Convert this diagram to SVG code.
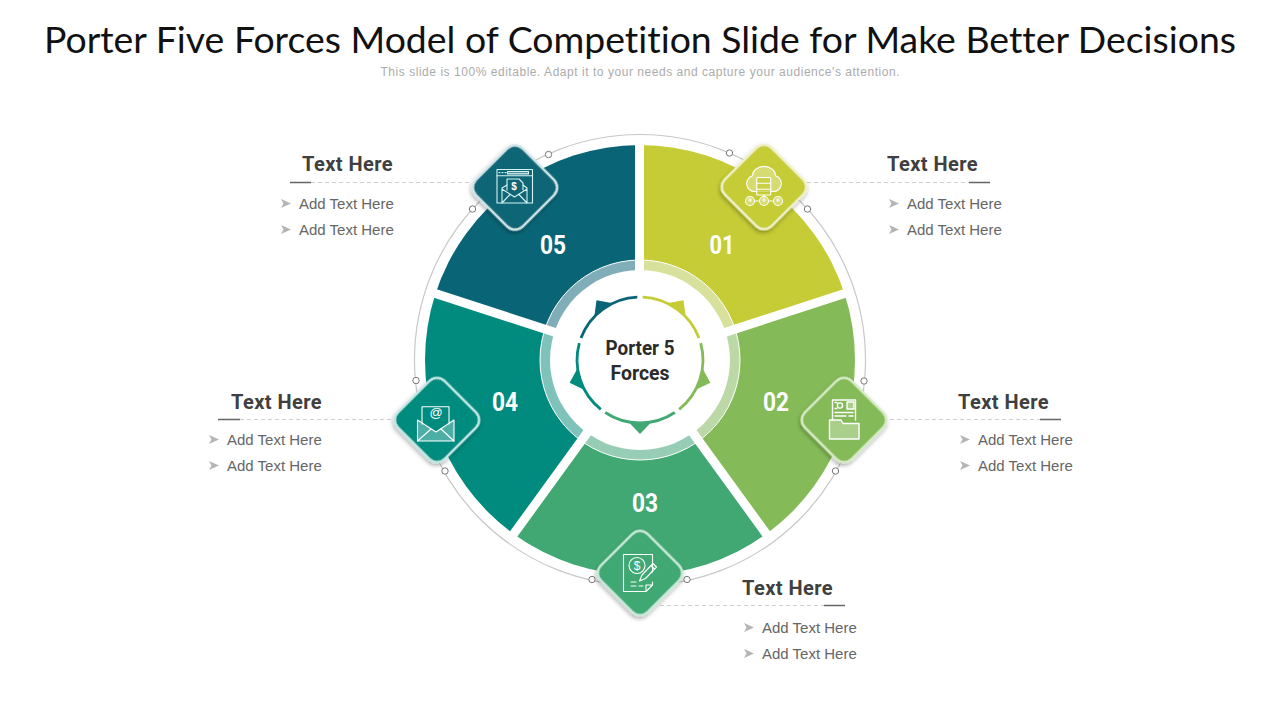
<svg xmlns="http://www.w3.org/2000/svg" width="1280" height="720" viewBox="0 0 1280 720">
<style>
.head{font-family:"Roboto","Liberation Sans",sans-serif;font-weight:700;font-size:20px;fill:#404040;letter-spacing:.45px}
.item{font-family:"Liberation Sans",Arial,sans-serif;font-size:15px;fill:#666}
.num{font-family:"Roboto","Liberation Sans",sans-serif;font-weight:700;font-size:26px;fill:#fff;text-anchor:middle}
.dash{stroke:#cfcfcf;stroke-width:1;stroke-dasharray:4 3;fill:none}
.solid{stroke:#666;stroke-width:1.6;fill:none}
.dia{stroke-width:2.4;filter:url(#sh)}
.ic{fill:none;stroke:#fff;stroke-width:1.1;stroke-linejoin:round;stroke-linecap:round}
.soft{fill:#fff;fill-opacity:.3}
.dot{fill:#fff;stroke:#777;stroke-width:1}
.bul{fill:#b5b5b5}
.inner{fill:none;stroke-width:2.8}
</style>
<defs>
<filter id="sh" x="-30%" y="-30%" width="160%" height="160%"><feDropShadow dx="1" dy="2" stdDeviation="2" flood-color="#000" flood-opacity=".35"/></filter>
<path id="bullet" d="M0 -4.5L10 0L0 4.5L2.5 0Z"/>
<g id="mark"><path d="M-34.8 -52.5A63 63 0 0 1 34.8 -52.5" class="inner" stroke-linecap="butt"/><path d="M-11.5 -61.9L0 -74L11.5 -61.9Z" stroke="none"/></g>
</defs>
<rect width="1280" height="720" fill="#fff"/>
<text x="640" y="53" text-anchor="middle" textLength="1192" lengthAdjust="spacingAndGlyphs" style="font-family:'Lato','Liberation Sans',sans-serif;font-size:37px;fill:#111;font-variant-ligatures:none">Porter Five Forces Model of Competition Slide for Make Better Decisions</text>
<text x="640" y="76" text-anchor="middle" textLength="519" style="font-family:'Liberation Sans',Arial,sans-serif;font-size:12px;fill:#ababab">This slide is 100% editable. Adapt it to your needs and capture your audience's attention.</text>

<g id="orbit">
<circle cx="640" cy="360" r="225.5" fill="none" stroke="#c9c9c9" stroke-width="1.2"/>
</g>

<g id="connectors">
<path class="dash" d="M311 182.5H472M807 182.5H969M890 419.5H1040M240 419.5H393M660 605.5H824"/>
<path class="solid" d="M290 182.5H311M969 182.5H990M1040 419.5H1061M218 419.5H240M824 605.5H845"/>
</g>

<g id="wheel">
<path id="seg01" fill="#c5cc35" d="M640 360V145A215 215 0 0 1 844.5 293.6Z"/>
<path id="seg02" fill="#84bb58" d="M640 360L844.5 293.6A215 215 0 0 1 766.4 533.9Z"/>
<path id="seg03" fill="#41a873" d="M640 360L766.4 533.9A215 215 0 0 1 513.6 533.9Z"/>
<path id="seg04" fill="#018b7f" d="M640 360L513.6 533.9A215 215 0 0 1 435.5 293.6Z"/>
<path id="seg05" fill="#096576" d="M640 360L435.5 293.6A215 215 0 0 1 640 145Z"/>
<path fill="#d8e19c" d="M640 360V260A100 100 0 0 1 735.1 329.1Z"/>
<path fill="#bbd8a6" d="M640 360L735.1 329.1A100 100 0 0 1 698.8 440.9Z"/>
<path fill="#98cdb5" d="M640 360L698.8 440.9A100 100 0 0 1 581.2 440.9Z"/>
<path fill="#7fc2ba" d="M640 360L581.2 440.9A100 100 0 0 1 544.9 329.1Z"/>
<path fill="#80aeb8" d="M640 360L544.9 329.1A100 100 0 0 1 640 260Z"/>
<circle cx="640" cy="360" r="100" fill="none" stroke="#fff" stroke-width="1"/>
<circle cx="640" cy="360" r="90" fill="#fff"/>
<path d="M639.5 360V140M640 360L850 291.8M640 360L770 539M640 360L510 539M640 360L430 291.8" stroke="#fff" stroke-width="9" fill="none"/>
</g>

<g id="hub">
<use href="#mark" transform="translate(640 360) rotate(36)" fill="#c5cc35" stroke="#c5cc35"/>
<use href="#mark" transform="translate(640 360) rotate(108)" fill="#84bb58" stroke="#84bb58"/>
<use href="#mark" transform="translate(640 360) rotate(180)" fill="#41a873" stroke="#41a873"/>
<use href="#mark" transform="translate(640 360) rotate(252)" fill="#018b7f" stroke="#018b7f"/>
<use href="#mark" transform="translate(640 360) rotate(324)" fill="#096576" stroke="#096576"/>
<g text-anchor="middle" style="font-family:'Roboto','Liberation Sans',sans-serif;font-weight:700;font-size:20px;fill:#2b2b2b">
<text x="640" y="355" textLength="69" lengthAdjust="spacingAndGlyphs">Porter 5</text>
<text x="640" y="380" textLength="59" lengthAdjust="spacingAndGlyphs">Forces</text>
</g>
</g>

<g id="dots">
<circle class="dot" cx="548.5" cy="154.5" r="3.2"/><circle class="dot" cx="472.5" cy="209" r="3.2"/>
<circle class="dot" cx="729.5" cy="153" r="3.2"/><circle class="dot" cx="807.5" cy="209" r="3.2"/>
<circle class="dot" cx="864" cy="381" r="3.2"/><circle class="dot" cx="835.5" cy="471" r="3.2"/>
<circle class="dot" cx="687" cy="579.5" r="3.2"/><circle class="dot" cx="592" cy="579.5" r="3.2"/>
<circle class="dot" cx="416" cy="380.5" r="3.2"/><circle class="dot" cx="445" cy="471" r="3.2"/>
</g>

<g id="node-01">
<text class="num" x="722" y="253.500" textLength="25" lengthAdjust="spacingAndGlyphs">01</text>
<rect class="dia" x="-33" y="-33" width="66" height="66" rx="11" transform="translate(764 187) rotate(45)" fill="#c5cc35" stroke="#eef0c6"/>
<g class="ic">
<path class="soft" d="M755 191.500A8 8 0 0 1 752.500 175.800A11 9 0 0 1 775.500 175.800A8 8 0 0 1 773 191.500Z"/>
<rect x="756.700" y="177.500" width="14" height="17.500" rx="1" fill="#c5cc35" fill-opacity=".7"/>
<path d="M756.700 183.300H770.700M756.700 189.200H770.700M764 195V197M754.500 201H759.500M768.500 201H773.500"/>
<circle class="soft" cx="750" cy="201" r="4.500"/><circle class="soft" cx="764" cy="201" r="4.500"/><circle class="soft" cx="778" cy="201" r="4.500"/>
<circle cx="750" cy="200" r="1.200"/><circle cx="764" cy="200" r="1.200"/><circle cx="778" cy="200" r="1.200"/>
</g>
<text class="head" x="887" y="171">Text Here</text>
<use href="#bullet" class="bul" x="889" y="203.500"/><text class="item" x="907" y="209">Add Text Here</text>
<use href="#bullet" class="bul" x="889" y="229.500"/><text class="item" x="907" y="235">Add Text Here</text>
</g>

<g id="node-02">
<text class="num" x="776" y="411" textLength="26" lengthAdjust="spacingAndGlyphs">02</text>
<rect class="dia" x="-33" y="-33" width="66" height="66" rx="11" transform="translate(844 420) rotate(45)" fill="#84bb58" stroke="#d5e9c3"/>
<g class="ic" style="stroke-width:1.4">
<path d="M832.500 420V400H855.500V420"/>
<circle cx="840" cy="405.500" r="2.600"/>
<rect class="soft" x="847" y="402" width="7" height="7"/>
<path d="M835 402.500H837M835 408.500H837M835 412.500H853M835 416H846M849 416H853"/>
<path class="soft" d="M829.500 439V420H841L843 423.500H859V439Z"/>
</g>
<text class="head" x="958" y="409">Text Here</text>
<use href="#bullet" class="bul" x="960" y="439.500"/><text class="item" x="978" y="445">Add Text Here</text>
<use href="#bullet" class="bul" x="960" y="465.500"/><text class="item" x="978" y="471">Add Text Here</text>
</g>

<g id="node-03">
<text class="num" x="645" y="512" textLength="26" lengthAdjust="spacingAndGlyphs">03</text>
<rect class="dia" x="-33" y="-33" width="66" height="66" rx="11" transform="translate(640 573) rotate(45)" fill="#41a873" stroke="#c6e8d6"/>
<g class="ic">
<path d="M652.500 572V554.500H623.500V591.500H646L652.500 585V582M646 591.500V585H652.500"/>
<circle cx="637" cy="565.500" r="8"/>
<path d="M639.500 581L642 575L653 563.500L656.500 567L645.500 578.500ZM651 565.500L654.500 569"/>
<path d="M631 582H636M631 586H636M639 586H643"/>
</g>
<text x="637" y="570" text-anchor="middle" style="font-family:'Liberation Sans',sans-serif;font-size:12px;fill:#fff">$</text>
<text class="head" x="742" y="595">Text Here</text>
<use href="#bullet" class="bul" x="744" y="627.500"/><text class="item" x="762" y="633">Add Text Here</text>
<use href="#bullet" class="bul" x="744" y="653.500"/><text class="item" x="762" y="659">Add Text Here</text>
</g>

<g id="node-04">
<text class="num" x="505" y="411" textLength="26" lengthAdjust="spacingAndGlyphs">04</text>
<rect class="dia" x="-33" y="-33" width="66" height="66" rx="11" transform="translate(437 420) rotate(45)" fill="#018b7f" stroke="#bfe7e3"/>
<g class="ic">
<path d="M422 424V406.700H449V424"/>
<path class="soft" d="M417.500 420L436 432L454 420V441H417.500Z"/>
<path d="M417.500 441L431 429M454 441L441 429"/>
</g>
<text x="436" y="417" text-anchor="middle" style="font-family:'Liberation Sans',sans-serif;font-size:13px;fill:#fff">@</text>
<text class="head" x="231" y="409">Text Here</text>
<use href="#bullet" class="bul" x="209" y="439.500"/><text class="item" x="227" y="445">Add Text Here</text>
<use href="#bullet" class="bul" x="209" y="465.500"/><text class="item" x="227" y="471">Add Text Here</text>
</g>

<g id="node-05">
<text class="num" x="553" y="253.500" textLength="26" lengthAdjust="spacingAndGlyphs">05</text>
<rect class="dia" x="-33" y="-33" width="66" height="66" rx="11" transform="translate(515 187.500) rotate(45)" fill="#096576" stroke="#cfe4e7"/>
<g class="ic" style="stroke:#d8f3f3">
<rect x="497" y="169.500" width="35.500" height="33.500"/>
<path d="M497 175.700H532.500M499 172.600H500M502 172.600H503M505 172.600H506"/>
<rect x="507.500" y="171.500" width="21" height="2.400" class="soft"/>
<path d="M507 190V179H519L523 183V190"/>
<path d="M502 203V188L507 185M527 203V188L523 185M502 189L514.500 197L527 189M502 203L510 194.500M527 203L519 194.500"/>
</g>
<text x="514" y="190" text-anchor="middle" style="font-family:'Liberation Sans',sans-serif;font-weight:700;font-size:10px;fill:#fff">$</text>
<text class="head" x="302" y="171">Text Here</text>
<use href="#bullet" class="bul" x="281" y="203.500"/><text class="item" x="299" y="209">Add Text Here</text>
<use href="#bullet" class="bul" x="281" y="229.500"/><text class="item" x="299" y="235">Add Text Here</text>
</g>
</svg>
